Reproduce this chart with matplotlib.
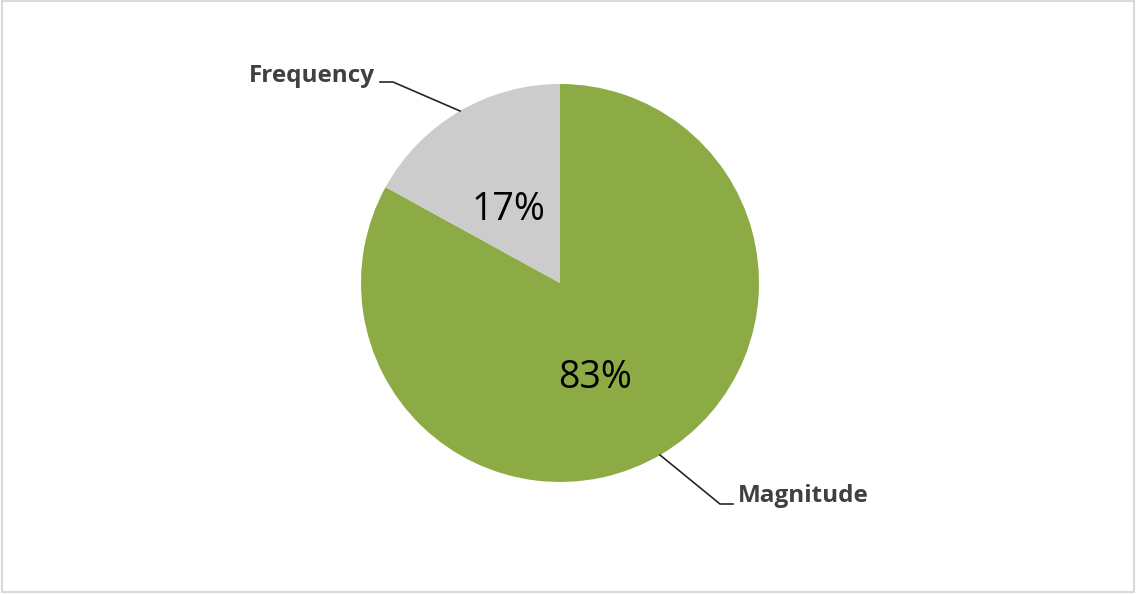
import matplotlib.pyplot as plt
from matplotlib.patches import Rectangle

labels = ["Magnitude", "Frequency"]
shares = [83, 17]
colors = ["#8DAB44", "#CCCCCC"]

W, H = 1136, 594
fig = plt.figure(figsize=(W / 100, H / 100), dpi=100)
ax = fig.add_axes([0, 0, 1, 1])

# outer chart border
ax.add_patch(Rectangle((2, 2), W - 4, H - 3, fill=False, ec="#D9D9D9", lw=1.5))

cx, cy, r = 560, H - 283, 199
wedges, _, autotexts = ax.pie(shares, colors=colors, startangle=90, counterclock=False,
                              center=(cx, cy), radius=r, frame=True,
                              autopct="%d%%",
                              textprops=dict(fontsize=27, color="#000000", family="Open Sans"))
ax.set_xlim(0, W)
ax.set_ylim(0, H)
ax.set_aspect("equal")
ax.axis("off")

autotexts[0].set_position((595, H - 378))
autotexts[1].set_position((509, H - 210))

# leader lines
ax.plot([460, 393, 380], [H - 111, H - 82, H - 82], color="#262626", lw=1.2)
ax.plot([660, 720, 733], [H - 455, H - 504, H - 504], color="#262626", lw=1.2)

ax.text(375, H - 76, labels[1], ha="right", va="center", fontsize=17.5, fontweight="bold",
        color="#404040", family="Open Sans")
ax.text(738, H - 496, labels[0], ha="left", va="center", fontsize=17.5, fontweight="bold",
        color="#404040", family="Open Sans")

fig.savefig("out.png", dpi=100)
